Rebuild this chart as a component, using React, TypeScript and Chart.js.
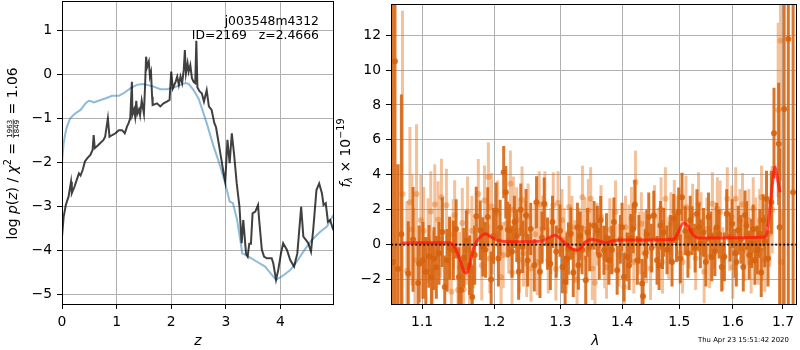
import React, { useEffect, useRef } from 'react';
import { Chart, registerables } from 'chart.js';
Chart.register(...registerables);

const FAMILY = "'DejaVu Sans', sans-serif";

// ---------- left panel: log p(z) ----------
const zBlack = [0, 0.03, 0.07, 0.12, 0.165, 0.18, 0.23, 0.27, 0.31, 0.34, 0.38, 0.42, 0.46, 0.52, 0.56, 0.58, 0.60, 0.67, 0.76, 0.79,
  0.84, 0.87, 0.92, 0.98, 1.04, 1.10, 1.15, 1.19, 1.22, 1.25, 1.28, 1.29, 1.32, 1.34, 1.36, 1.38, 1.41, 1.43, 1.46, 1.50,
  1.52, 1.54, 1.56, 1.59, 1.61, 1.63, 1.65, 1.66, 1.74, 1.80, 1.86, 1.92, 1.97, 2.00, 2.03, 2.08, 2.11, 2.14, 2.17, 2.20,
  2.23, 2.25, 2.27, 2.30, 2.32, 2.35, 2.38, 2.41, 2.44, 2.46, 2.48, 2.52, 2.56, 2.60, 2.65, 2.69, 2.74, 2.79, 2.82, 2.85,
  2.91, 2.96, 2.99, 3.03, 3.07, 3.11, 3.15, 3.20, 3.25, 3.29, 3.32, 3.37, 3.40, 3.43, 3.46, 3.49, 3.54, 3.59, 3.61, 3.66,
  3.70, 3.75, 3.84, 3.87, 3.92, 3.96, 4.01, 4.05, 4.12, 4.18, 4.25, 4.31, 4.38, 4.42, 4.47, 4.51, 4.56, 4.60, 4.66, 4.71,
  4.76, 4.79, 4.83, 4.87, 4.91, 4.97];
const logPz = [-3.69, -3.24, -2.97, -2.78, -2.44, -2.70, -2.55, -2.40, -2.25, -2.30, -2.17, -1.98, -1.91, -1.83, -1.72, -1.38, -1.68, -1.60, -1.49, -1.42,
  -1.00, -1.42, -1.38, -1.34, -1.27, -1.27, -1.34, -1.19, -1.11, -1.00, -0.17, -0.92, -0.80, -0.96, -0.60, -0.90, -0.80, -0.93, -0.60, -0.89,
  -0.30, 0.40, 0.17, 0.29, -0.05, 0.05, -0.51, -0.70, -0.66, -0.73, -0.66, -0.62, -0.58, 0.06, -0.32, -0.17, -0.05, -0.24, -0.05, -0.20,
  0.10, 0.55, 0.02, 0.25, 0.06, 0.21, -0.09, -0.17, -0.20, 0.76, -0.30, -0.39, -0.43, -0.62, -0.36, -0.73, -0.81, -1.11, -1.20, -1.42,
  -1.87, -2.25, -2.44, -1.49, -2.02, -1.34, -1.80, -2.48, -3.01, -3.84, -3.31, -4.07, -4.14, -3.85, -3.85, -3.16, -3.12, -2.97, -3.30, -3.99,
  -4.14, -4.18, -4.18, -4.30, -4.67, -4.45, -4.07, -3.84, -3.99, -4.22, -4.37, -4.07, -3.01, -3.69, -3.77, -3.84, -4.03, -3.54, -2.63, -2.48,
  -2.70, -2.97, -2.93, -3.35, -3.31, -3.54];

const zPrior = [0, 0.03, 0.06, 0.09, 0.15, 0.24, 0.34, 0.43, 0.49, 0.53, 0.58, 0.67, 0.79, 0.92, 1.04, 1.13, 1.25, 1.37, 1.47, 1.56,
  1.68, 1.80, 1.92, 2.05, 2.17, 2.26, 2.32, 2.41, 2.50, 2.56, 2.65, 2.77, 2.90, 2.99, 3.07, 3.13, 3.20, 3.27, 3.30, 3.41,
  3.57, 3.72, 3.84, 3.92, 4.02, 4.18, 4.30, 4.42, 4.57, 4.73, 4.85, 4.97];
const logPrior = [-2.0, -1.57, -1.35, -1.19, -1.0, -0.89, -0.81, -0.66, -0.60, -0.61, -0.64, -0.60, -0.55, -0.49, -0.49, -0.43, -0.32, -0.24, -0.22, -0.24,
  -0.28, -0.34, -0.34, -0.30, -0.24, -0.20, -0.22, -0.36, -0.55, -0.77, -1.11, -1.61, -2.10, -2.48, -2.89, -2.93, -3.27, -3.80, -4.07, -4.14,
  -4.26, -4.37, -4.55, -4.67, -4.60, -4.45, -4.26, -4.03, -3.77, -3.58, -3.46, -3.20];

const zTicks = [0, 1, 2, 3, 4];
const pzTicks = [-5, -4, -3, -2, -1, 0, 1];

// ---------- right panel: spectrum ----------
const darkLam = [
  1.0618, 1.0645, 1.0685, 1.0728, 1.0817, 1.0947, 1.0961, 1.1049, 1.1092, 1.1124,
  1.1159, 1.1226, 1.1272, 1.1304, 1.1335, 1.1422, 1.1499, 1.1567, 1.1602, 1.1648,
  1.1685, 1.1742, 1.1798, 1.1835, 1.1874, 1.1906, 1.1955, 1.2027, 1.2085, 1.2137,
  1.2168, 1.2196, 1.2221, 1.2295, 1.2358, 1.2418, 1.2468, 1.2493, 1.2594, 1.2628,
  1.2680, 1.2745, 1.2796, 1.2874, 1.2931, 1.3030, 1.3071, 1.3123, 1.3161, 1.3266,
  1.3282, 1.3341, 1.3400, 1.3464, 1.3534, 1.3589, 1.3644, 1.3697, 1.3780, 1.3863,
  1.3918, 1.3972, 1.4031, 1.4087, 1.4149, 1.4218, 1.4287, 1.4343, 1.4360, 1.4424,
  1.4459, 1.4546, 1.4604, 1.4664, 1.4722, 1.4781, 1.4841, 1.4900, 1.4990, 1.5050,
  1.5111, 1.5158, 1.5232, 1.5324, 1.5387, 1.5446, 1.5539, 1.5601, 1.5694, 1.5789,
  1.5884, 1.5949, 1.6045, 1.6108, 1.6205, 1.6270, 1.6368, 1.6434, 1.6533, 1.6599,
  1.6666, 1.6696, 1.6763, 1.6817, 1.6913, 1.6932, 1.7024, 1.7110, 1.7209];
const darkFlux = [
  -1.0, 10.5, -1.4, 0.6, -1.66, -2.2, -1.1, -1.56, -0.67, -1.85,
  -0.8, -0.5, 0.72, -2.42, -0.9, -0.32, -1.85, -0.75, 0.25, -1.18,
  -3.0, 1.62, 0.82, -0.13, -0.3, 1.58, -2.0, 1.96, 0.97, 4.15,
  3.0, 0.86, 0.82, 1.3, -1.56, -0.13, 1.68, -0.9, -1.18, 2.42,
  -1.56, 2.34, 0.06, 1.3, -0.4, -1.28, -2.13, -0.23, 0.63, 1.0,
  -1.18, -0.3, -2.04, -0.13, 1.1, 0.82, 1.39, -0.32, -0.9, 1.3,
  -1.47, 0.3, -1.85, -0.7, 0.35, 2.3, 0.3, -2.23, -2.95, 0.6,
  1.58, 1.68, -0.9, 1.1, 0.7, -0.3, 0.3, 1.5, 1.87, 2.72,
  0.8, -0.5, 0.8, 1.77, 0.05, 0.7, 1.58, -0.7, 1.0, -1.28,
  1.77, 0.44, -0.5, 0.82, -1.28, 1.1, 0.06, -0.9, 0.63, 1.39,
  2.63, -0.8, 2.43, 6.38, 5.77, 1.0, 7.77, 11.77, 3.0];
const darkErr = [
  20, 16, 6, 8, 3.0, 2.4, 2.2, 2.0, 1.8, 2.0,
  1.8, 1.8, 2.0, 1.8, 1.8, 1.7, 1.7, 1.7, 1.7, 1.7,
  1.8, 1.7, 1.7, 1.7, 1.6, 1.7, 1.6, 1.6, 1.6, 1.5,
  1.5, 1.6, 1.5, 1.5, 1.6, 1.5, 1.5, 1.5, 1.5, 1.5,
  1.5, 1.5, 1.5, 1.5, 1.5, 1.5, 1.5, 1.5, 1.5, 1.4,
  1.4, 1.4, 1.4, 1.4, 1.4, 1.4, 1.4, 1.4, 1.4, 1.4,
  1.4, 1.4, 1.4, 1.4, 1.4, 1.4, 1.4, 1.4, 1.4, 1.4,
  1.4, 1.4, 1.4, 1.4, 1.4, 1.4, 1.4, 1.4, 1.4, 1.4,
  1.4, 1.4, 1.4, 1.4, 1.4, 1.4, 1.4, 1.4, 1.4, 1.4,
  1.4, 1.4, 1.4, 1.4, 1.4, 1.4, 1.4, 1.4, 1.4, 1.5,
  1.6, 1.6, 1.8, 2.6, 3.5, 4.5, 16, 18, 20];

// further dark-grism readings in the crowded middle of the panel
const darkLamB = [
  1.0880, 1.1010, 1.1190, 1.1370, 1.1460, 1.1530, 1.1720, 1.1990, 1.2060, 1.2260,
  1.2330, 1.2390, 1.2540, 1.2710, 1.2840, 1.2990, 1.3100, 1.3200, 1.3310, 1.3430,
  1.3620, 1.3740, 1.3830, 1.4000, 1.4120, 1.4190, 1.4260, 1.4400, 1.4510, 1.4640,
  1.4700, 1.4870, 1.4950, 1.5020, 1.5200, 1.5290, 1.5360, 1.5490, 1.5580, 1.5660,
  1.5740, 1.5840, 1.5990, 1.6070, 1.6160, 1.6240, 1.6320, 1.6400, 1.6480, 1.6560,
  1.6630];
const darkFluxB = [
  0.3, -0.9, -1.3, -0.2, 0.9, -2.6, -0.6, 0.5, -0.8, -0.4,
  0.5, 2.0, 0.9, 0.4, -1.1, 0.8, -0.8, -1.6, 0.5, 0.7,
  -0.6, 0.4, -0.3, 1.0, -1.2, 0.9, -0.9, -0.5, -0.2, -1.2,
  0.0, -1.0, 0.4, -0.8, 1.4, -0.2, 1.0, -1.0, 0.5, -0.4,
  0.6, -0.7, 1.2, -1.0, 0.3, 1.7, -0.6, 0.9, -0.3, -1.6,
  0.2];
const darkErrB = [
  3.0, 2.2, 1.8, 1.8, 1.7, 1.7, 1.7, 1.6, 1.6, 1.5,
  1.5, 1.5, 1.5, 1.5, 1.5, 1.5, 1.5, 1.4, 1.4, 1.4,
  1.4, 1.4, 1.4, 1.4, 1.4, 1.4, 1.4, 1.4, 1.4, 1.4,
  1.4, 1.4, 1.4, 1.4, 1.4, 1.4, 1.4, 1.4, 1.4, 1.4,
  1.4, 1.4, 1.4, 1.4, 1.4, 1.4, 1.4, 1.4, 1.4, 1.4,
  1.5];

const lightLam = [
  1.0742, 1.0839, 1.0865, 1.0926, 1.0983, 1.1079, 1.1115, 1.1169, 1.1213, 1.1259,
  1.1327, 1.1372, 1.1395, 1.1440, 1.1486, 1.1509, 1.1546, 1.1564, 1.1606, 1.1648,
  1.1700, 1.1771, 1.1860, 1.1915, 1.1935, 1.1974, 1.2050, 1.2099, 1.2211, 1.2236,
  1.2280, 1.2329, 1.2369, 1.2409, 1.2451, 1.2478, 1.2544, 1.2605, 1.2669, 1.2756,
  1.2807, 1.2885, 1.2926, 1.3021, 1.3055, 1.3134, 1.3229, 1.3293, 1.3347, 1.3389,
  1.3443, 1.3480, 1.3507, 1.3550, 1.3710, 1.3795, 1.3891, 1.4040, 1.4059, 1.4115,
  1.4230, 1.4300, 1.4372, 1.4490, 1.4560, 1.4675, 1.4752, 1.4811, 1.4912, 1.5020,
  1.5122, 1.5245, 1.5353, 1.5458, 1.5508, 1.5612, 1.5706, 1.5758, 1.5896, 1.5981,
  1.6058, 1.6140, 1.6238, 1.6314, 1.6401, 1.6500, 1.6566, 1.6632, 1.6730, 1.6780,
  1.6902, 1.6949, 1.6970];
const lightFlux = [
  2.9, 2.43, 0.86, 2.9, 1.4, 0.25, 1.9, 2.3, 1.43, 2.72,
  2.25, -0.5, -2.7, 1.68, -2.6, -1.28, 1.24, -2.57, -0.3, -1.47,
  -0.5, 2.9, 2.53, 3.87, -0.8, 0.2, 1.77, -1.85, 0.25, 3.49,
  2.0, 1.39, -0.86, 2.57, 0.6, -1.1, -1.37, 0.6, 2.3, 2.3,
  -0.9, 2.25, -1.4, 1.39, 0.3, 2.15, -0.4, 0.3, 2.72, 0.9,
  1.96, 2.63, -1.37, -2.19, -0.7, 0.85, 1.87, -2.42, 1.0, 0.5,
  3.58, 0.1, 0.1, -1.37, 1.6, 2.06, 2.63, -0.2, 1.9, -0.5,
  2.15, 1.68, 2.34, -1.56, 0.9, 2.34, 2.06, 1.87, 2.63, 1.58,
  2.63, 1.39, -0.3, 1.39, 2.06, -0.5, 2.72, -0.9, 0.63, 2.0,
  7.71, 11.67, -1.0];
const lightErr = [
  10.5, 4.3, 3.2, 4.0, 2.6, 2.4, 2.3, 2.3, 2.2, 2.2,
  2.1, 2.1, 2.0, 2.0, 2.0, 2.0, 2.0, 2.0, 2.0, 2.0,
  2.0, 2.0, 2.0, 2.0, 2.0, 1.9, 1.9, 1.9, 1.9, 1.9,
  1.9, 1.9, 1.9, 1.9, 1.9, 1.9, 1.9, 1.9, 1.9, 1.9,
  1.9, 1.9, 1.8, 1.8, 1.8, 1.8, 1.8, 1.8, 1.8, 1.8,
  1.8, 1.8, 1.8, 1.8, 1.8, 1.8, 1.8, 1.8, 1.8, 1.8,
  1.8, 1.8, 1.8, 1.8, 1.8, 1.8, 1.8, 1.8, 1.8, 1.8,
  1.8, 1.8, 1.8, 1.8, 1.8, 1.8, 1.8, 1.8, 1.8, 1.8,
  1.8, 1.8, 1.8, 1.8, 1.8, 1.8, 1.8, 1.8, 1.9, 2.5,
  5.0, 8.0, 3.0];

// further light-grism readings in the crowded middle of the panel
const lightLamB = [
  1.0800, 1.0905, 1.1020, 1.1140, 1.1250, 1.1420, 1.1620, 1.1680, 1.1820, 1.1960,
  1.2130, 1.2180, 1.2260, 1.2350, 1.2430, 1.2500, 1.2640, 1.2720, 1.2850, 1.2960,
  1.3090, 1.3180, 1.3260, 1.3420, 1.3580, 1.3650, 1.3740, 1.3850, 1.3950, 1.4160,
  1.4200, 1.4330, 1.4420, 1.4620, 1.4700, 1.4850, 1.4960, 1.5060, 1.5180, 1.5300,
  1.5400, 1.5560, 1.5650, 1.5810, 1.5940, 1.6000, 1.6190, 1.6270, 1.6360, 1.6450,
  1.6530, 1.6600];
const lightFluxB = [
  -1.5, -0.9, 0.8, -1.5, 0.3, 0.6, 1.9, 0.8, -1.2, 2.2,
  -0.6, 1.2, -1.6, 0.8, -0.5, 1.6, -1.0, 0.9, 0.2, 2.4,
  -1.0, 1.0, -2.0, -0.3, 0.6, 1.6, -1.3, 0.2, -0.6, 1.5,
  -1.0, 1.2, -0.4, 0.3, -1.0, 1.2, 1.0, -1.0, 0.4, -0.8,
  1.2, -0.7, 0.4, -0.8, 0.3, -1.3, 2.3, 0.6, -1.0, 0.9,
  1.4, -0.2];
const lightErrB = [
  4.0, 3.0, 2.5, 2.3, 2.2, 2.0, 2.0, 2.0, 2.0, 1.9,
  1.9, 1.9, 1.9, 1.9, 1.9, 1.9, 1.9, 1.9, 1.9, 1.8,
  1.8, 1.8, 1.8, 1.8, 1.8, 1.8, 1.8, 1.8, 1.8, 1.8,
  1.8, 1.8, 1.8, 1.8, 1.8, 1.8, 1.8, 1.8, 1.8, 1.8,
  1.8, 1.8, 1.8, 1.8, 1.8, 1.8, 1.8, 1.8, 1.8, 1.8,
  1.8, 1.9];

const modelLam = [1.0731, 1.1371, 1.1436, 1.1509, 1.1574, 1.1606, 1.1640, 1.1710, 1.1790, 1.1876,
  1.1950, 1.2050, 1.2180, 1.2470, 1.2720, 1.2820, 1.2910, 1.3000, 1.3130, 1.3260,
  1.3313, 1.3395, 1.3500, 1.3617, 1.3730, 1.3830, 1.4000, 1.4905, 1.4970, 1.5080,
  1.5150, 1.5250, 1.5353, 1.5750, 1.6600, 1.6670, 1.6730, 1.6800, 1.6840, 1.6900, 1.6940];
const modelFlux = [0.10, 0.11, -0.13, -0.80, -1.56, -1.62, -1.28, -0.13, 0.40, 0.63,
  0.44, 0.25, 0.17, 0.17, 0.21, 0.40, 0.53, 0.34, -0.13, -0.32,
  -0.23, 0.15, 0.30, 0.21, 0.11, 0.21, 0.27, 0.30, 0.63, 1.24,
  1.10, 0.57, 0.38, 0.38, 0.42, 0.63, 1.96, 3.87, 4.44, 3.58, 3.00];

const lamTicks = [1.1, 1.2, 1.3, 1.4, 1.5, 1.6, 1.7];
const fluxTicks = [-2, 0, 2, 4, 6, 8, 10, 12];

const GRID = '#b0b0b0';
const DARK = 'rgba(214,98,12,0.88)';
const LIGHT = 'rgba(228,118,30,0.45)';

const minus = (v: number) => (v < 0 ? '\u2212' + Math.abs(v) : String(v));

type Run = { t?: string; size: number; italic?: boolean; dy?: number; frac?: boolean; num?: string; den?: string; numY?: number; denY?: number; barY?: number };

function runFont(r: Run) {
  return `${r.italic ? 'italic ' : ''}${r.size}px ${FAMILY}`;
}

function drawRuns(ctx: CanvasRenderingContext2D, bx: number, cy: number, runs: Run[]) {
  ctx.save();
  ctx.translate(bx, cy);
  ctx.rotate(-Math.PI / 2);
  ctx.textAlign = 'left';
  ctx.textBaseline = 'alphabetic';
  ctx.fillStyle = '#000';
  const widths = runs.map((r) => {
    ctx.font = runFont(r);
    if (r.frac) return Math.max(ctx.measureText(r.num!).width, ctx.measureText(r.den!).width) + 2;
    return ctx.measureText(r.t!).width;
  });
  const total = widths.reduce((a, b) => a + b, 0);
  let x = -total / 2;
  runs.forEach((r, i) => {
    ctx.font = runFont(r);
    if (r.frac) {
      const w = widths[i];
      const nw = ctx.measureText(r.num!).width;
      const dw = ctx.measureText(r.den!).width;
      ctx.fillText(r.num!, x + (w - nw) / 2, r.numY!);
      ctx.fillText(r.den!, x + (w - dw) / 2, r.denY!);
      ctx.fillRect(x + 0.5, r.barY! - 0.35, w - 1, 0.7);
    } else {
      ctx.fillText(r.t!, x, r.dy || 0);
    }
    x += widths[i];
  });
  ctx.restore();
}

const framePlugin = {
  id: 'frame',
  afterDraw(chart: any) {
    const { ctx, chartArea: a } = chart;
    ctx.save();
    ctx.strokeStyle = '#000';
    ctx.lineWidth = 1;
    ctx.strokeRect(a.left + 0.5, a.top + 0.5, a.right - a.left, a.bottom - a.top);
    ctx.restore();
  },
};

const leftText = {
  id: 'leftText',
  afterDraw(chart: any) {
    const ctx = chart.ctx as CanvasRenderingContext2D;
    ctx.save();
    ctx.fillStyle = '#000';
    ctx.font = `12.4px ${FAMILY}`;
    ctx.textAlign = 'right';
    ctx.textBaseline = 'alphabetic';
    ctx.fillText('j003548m4312', 319, 24.5);
    ctx.fillText('ID=2169   z=2.4666', 319, 39);
    ctx.font = `italic 13.9px ${FAMILY}`;
    ctx.textAlign = 'center';
    ctx.fillText('z', 197.8, 345);
    ctx.restore();
    const S = 13.9;
    drawRuns(ctx, 16.8, 153.5, [
      { t: 'log', size: S },
      { t: ' ', size: S },
      { t: 'p', size: S, italic: true },
      { t: '(', size: S },
      { t: 'z', size: S, italic: true },
      { t: ')', size: S },
      { t: ' / ', size: S },
      { t: '\u03c7', size: S, italic: true },
      { t: '2', size: 9.7, dy: -5.6 },
      { t: ' = ', size: S },
      { frac: true, num: '1963', den: '1849', size: 7, numY: -4.6, denY: 2.6, barY: -3.6 },
      { t: ' = 1.06', size: S },
    ]);
  },
};

const rightText = {
  id: 'rightText',
  afterDraw(chart: any) {
    const ctx = chart.ctx as CanvasRenderingContext2D;
    ctx.save();
    ctx.fillStyle = '#000';
    ctx.font = `italic 13.9px ${FAMILY}`;
    ctx.textAlign = 'center';
    ctx.textBaseline = 'alphabetic';
    ctx.fillText('\u03bb', 265.3, 345);
    ctx.font = `6.9px ${FAMILY}`;
    ctx.textAlign = 'left';
    ctx.fillText('Thu Apr 23 15:51:42 2020', 368, 342);
    ctx.restore();
    const S = 13.9;
    drawRuns(ctx, 19.5, 153, [
      { t: 'f', size: S, italic: true },
      { t: '\u03bb', size: 9.7, italic: true, dy: 2.8 },
      { t: ' \u00d7 10', size: S },
      { t: '\u221219', size: 9.7, dy: -5.6 },
    ]);
  },
};

function segments(lam: number[], flux: number[], err: number[]) {
  const out: any[] = [];
  for (let i = 0; i < lam.length; i++) {
    out.push({ x: lam[i], y: flux[i] - err[i] }, { x: lam[i], y: flux[i] + err[i] }, { x: lam[i], y: null });
  }
  return out;
}

const pts = (xs: number[], ys: number[]) => xs.map((x, i) => ({ x, y: ys[i] }));

const tickFont = { family: FAMILY, size: 13.9 };

function axisCommon(size: number, isX: boolean, ticks: number[], fmt: (v: number) => string) {
  return {
    afterBuildTicks: (s: any) => { s.ticks = ticks.map((v) => ({ value: v })); },
    afterFit: (s: any) => {
      if (isX) s.height = size; else s.width = size;
      s.paddingTop = 0; s.paddingBottom = 0; s.paddingLeft = 0; s.paddingRight = 0;
    },
    ticks: { font: tickFont, color: '#000', padding: 5, autoSkip: false, maxRotation: 0, callback: (v: any) => fmt(Number(v)) },
    grid: { color: GRID, lineWidth: 1, tickColor: '#000', tickLength: 5, tickWidth: 1 },
    border: { display: false },
  };
}

export default function App() {
  const leftRef = useRef<HTMLCanvasElement>(null);
  const rightRef = useRef<HTMLCanvasElement>(null);

  useEffect(() => {
    const common = {
      responsive: false,
      animation: false as const,
      devicePixelRatio: 1,
      events: [] as any[],
      plugins: { legend: { display: false }, tooltip: { enabled: false } },
    };

    const left = new Chart(leftRef.current!, {
      type: 'line',
      data: {
        datasets: [
          { data: pts(zBlack, logPz), borderColor: 'rgba(0,0,0,0.75)', borderWidth: 2, pointRadius: 0, tension: 0 },
          { data: pts(zPrior, logPrior), borderColor: 'rgba(31,119,180,0.5)', borderWidth: 2, pointRadius: 0, tension: 0 },
        ],
      },
      options: {
        ...common,
        layout: { padding: { left: 0, right: 7, top: 1, bottom: 0 } },
        scales: {
          x: { type: 'linear', min: 0, max: 4.963, ...axisCommon(46, true, zTicks, (v) => String(v)) } as any,
          y: { type: 'linear', min: -5.22, max: 1.666, ...axisCommon(62, false, pzTicks, minus) } as any,
        },
      } as any,
      plugins: [framePlugin, leftText],
    });

    const right = new Chart(rightRef.current!, {
      type: 'line',
      data: {
        datasets: [
          { data: pts(modelLam, modelFlux), borderColor: 'rgba(255,20,10,0.72)', borderWidth: 3, pointRadius: 0, cubicInterpolationMode: 'monotone' },
          { data: [{ x: 1.0, y: 0 }, { x: 1.8, y: 0 }], borderColor: 'rgba(0,0,0,0.85)', borderWidth: 2, borderDash: [2, 2], pointRadius: 0 },
          { data: pts(darkLam, darkFlux).concat(pts(darkLamB, darkFluxB)), showLine: false, pointRadius: 3, pointBorderWidth: 0, pointBackgroundColor: DARK, borderColor: DARK },
          { data: segments(darkLam, darkFlux, darkErr).concat(segments(darkLamB, darkFluxB, darkErrB)), borderColor: DARK, borderWidth: 3, pointRadius: 0, spanGaps: false, borderCapStyle: 'butt' },
          { data: pts(lightLam, lightFlux).concat(pts(lightLamB, lightFluxB)), showLine: false, pointRadius: 3, pointBorderWidth: 0, pointBackgroundColor: LIGHT, borderColor: LIGHT },
          { data: segments(lightLam, lightFlux, lightErr).concat(segments(lightLamB, lightFluxB, lightErrB)), borderColor: LIGHT, borderWidth: 3, pointRadius: 0, spanGaps: false, borderCapStyle: 'butt' },
        ] as any,
      },
      options: {
        ...common,
        layout: { padding: { left: 0, right: 2, top: 1, bottom: 0 } },
        scales: {
          x: { type: 'logarithmic', min: 1.05943, max: 1.72692, ...axisCommon(46, true, lamTicks, (v) => v.toFixed(1)) } as any,
          y: { type: 'linear', min: -3.40, max: 13.78, ...axisCommon(61, false, fluxTicks, minus) } as any,
        },
      } as any,
      plugins: [framePlugin, rightText],
    });

    return () => {
      left.destroy();
      right.destroy();
    };
  }, []);

  return (
    <div style={{ position: 'fixed', left: 0, top: 0, width: 800, height: 350, background: '#fff' }}>
      <canvas ref={leftRef} width={340} height={350} style={{ position: 'absolute', left: 0, top: 0 }} />
      <canvas ref={rightRef} width={470} height={350} style={{ position: 'absolute', left: 330, top: 0 }} />
    </div>
  );
}
